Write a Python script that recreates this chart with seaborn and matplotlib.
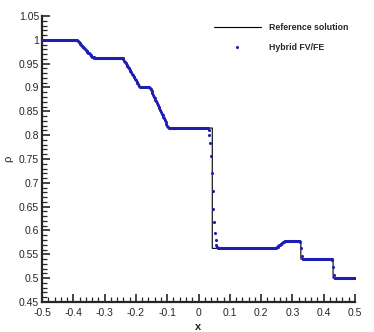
import numpy as np
import pandas as pd
import seaborn as sns
import matplotlib
matplotlib.use("Agg")
from matplotlib import pyplot as plt
from matplotlib.ticker import MultipleLocator, FormatStrFormatter

# reference (exact) solution, breakpoints
ref_x = [-0.5, -0.388, -0.333, -0.244, -0.188, -0.157, -0.097, 0.044, 0.044,
         0.245, 0.276, 0.327, 0.327, 0.43, 0.43, 0.5]
ref_rho = [1.0, 1.0, 0.962, 0.962, 0.901, 0.901, 0.815, 0.815, 0.5625,
           0.5625, 0.578, 0.578, 0.54, 0.54, 0.5, 0.5]

# hybrid FV/FE solution, one value per mesh node (dx = 0.0025)
hybrid_rho = (
    [1.0] * 45
    + [0.999, 0.997, 0.995, 0.993, 0.991, 0.989, 0.987, 0.986, 0.984, 0.982,
       0.980, 0.979, 0.977, 0.975, 0.973, 0.972, 0.970, 0.968, 0.967, 0.965,
       0.964, 0.963, 0.962]
    + [0.962] * 35
    + [0.961, 0.959, 0.956, 0.953, 0.951, 0.948, 0.945, 0.942, 0.940, 0.937,
       0.934, 0.932, 0.929, 0.926, 0.923, 0.921, 0.918, 0.915, 0.912, 0.910,
       0.907, 0.904, 0.902]
    + [0.901] * 12
    + [0.899, 0.896, 0.892, 0.889, 0.885, 0.881, 0.878, 0.874, 0.871, 0.867,
       0.863, 0.860, 0.856, 0.853, 0.849, 0.845, 0.842, 0.838, 0.835, 0.831,
       0.827, 0.824, 0.820, 0.817]
    + [0.815] * 51
    + [0.811, 0.800, 0.784, 0.757, 0.720, 0.682, 0.646, 0.617, 0.595, 0.580,
       0.570, 0.565, 0.563]
    + [0.5625] * 73
    + [0.5635, 0.565, 0.566, 0.567, 0.569, 0.570, 0.571, 0.572, 0.574, 0.575,
       0.576, 0.577]
    + [0.578] * 19
    + [0.575, 0.5625, 0.547, 0.541]
    + [0.54] * 37
    + [0.538, 0.523, 0.506, 0.501]
    + [0.5] * 26
)
hybrid_x = np.linspace(-0.5, 0.5, len(hybrid_rho))

x_ticks = [-0.5, -0.4, -0.3, -0.2, -0.1, 0, 0.1, 0.2, 0.3, 0.4, 0.5]
y_ticks = [0.45, 0.5, 0.55, 0.6, 0.65, 0.7, 0.75, 0.8, 0.85, 0.9, 0.95, 1, 1.05]

sns.set_style("ticks")
plt.rcParams["font.family"] = ["Liberation Sans", "DejaVu Sans"]
plt.rcParams["axes.unicode_minus"] = False

fig = plt.figure(figsize=(3.74, 3.32), dpi=100)
ax = fig.add_axes([0.1123, 0.0904, 0.8369, 0.8614])

df_ref = pd.DataFrame({"x": ref_x, "rho": ref_rho})
df_hyb = pd.DataFrame({"x": hybrid_x, "rho": hybrid_rho})

sns.lineplot(data=df_ref, x="x", y="rho", ax=ax, estimator=None, sort=False,
             color="black", linewidth=0.8, label="Reference solution")
sns.scatterplot(data=df_hyb, x="x", y="rho", ax=ax, color="#1e1eb4",
                s=5, linewidth=0, label="Hybrid FV/FE", zorder=3)

ax.set_xlim(-0.5, 0.5)
ax.set_ylim(0.45, 1.05)
ax.set_xticks(x_ticks)
ax.set_yticks(y_ticks)
ax.xaxis.set_minor_locator(MultipleLocator(0.02))
ax.yaxis.set_minor_locator(MultipleLocator(0.01))
ax.xaxis.set_major_formatter(FormatStrFormatter("%g"))
ax.yaxis.set_major_formatter(FormatStrFormatter("%g"))
ax.tick_params(which="major", direction="in", length=6, width=1.2,
               labelsize=7.5, pad=2)
ax.tick_params(axis="x", which="major", pad=4)
ax.tick_params(which="minor", direction="in", length=3.5, width=0.9)
for side in ["top", "right"]:
    ax.spines[side].set_visible(False)
for side in ["left", "bottom"]:
    ax.spines[side].set_linewidth(1.6)

ax.set_xlabel("x", fontsize=8, fontweight="bold", labelpad=3)
ax.set_ylabel("\u03c1", fontsize=8, labelpad=4)

leg = ax.legend(loc="upper left", bbox_to_anchor=(0.535, 0.99), frameon=False,
                borderpad=0, handlelength=5.4, handletextpad=0.85,
                labelspacing=1.2, markerscale=1.0,
                prop={"size": 6.3, "weight": "bold"})

fig.savefig("out.png", dpi=100)
